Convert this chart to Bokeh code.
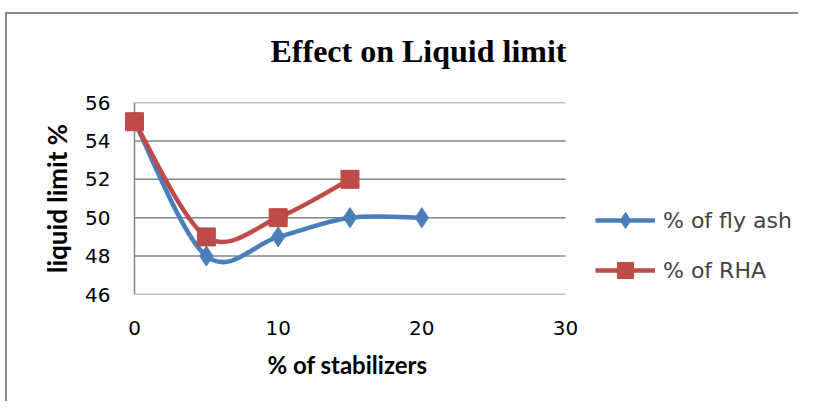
import numpy as np
from bokeh.plotting import figure
from bokeh.models import (ColumnDataSource, FixedTicker, Legend, LegendItem, Range1d, Title)
from bokeh.embed import file_html
from bokeh.resources import INLINE

# ---- data ----
stabilizer_pct = [0, 5, 10, 15, 20]
fly_ash_ll = [55, 48, 49, 50, 50]
rha_pct = [0, 5, 10, 15]
rha_ll = [55, 49, 50, 52]
x_ticks = [0, 10, 20, 30]
y_ticks = [46, 48, 50, 52, 54, 56]

title_text = "Effect on Liquid limit"
x_title = "% of stabilizers"
y_title = "liquid limit %"
series_names = ["% of fly ash", "% of RHA"]

BLUE = "#4A7EBB"
RED = "#BE4B48"
GRID = "#868686"

# ---- layout (canvas px; canvas origin at screen (7, 14)) ----
OX, OY = 7, 14
W, H = 793, 411 - OY - 8
frame_left, frame_top, frame_bottom = 120 - OX, 102 - OY, 294 - OY
x0_px, x30_px = 134 - OX, 565 - OX
px_x = (x30_px - x0_px) / 30.0
x_start = (frame_left - x0_px) / px_x
x_end = x_start + (W - frame_left) / px_x

p = figure(width=W, height=H, output_backend="svg", toolbar_location=None,
           x_range=Range1d(x_start, x_end), y_range=Range1d(46, 56),
           min_border_left=frame_left, min_border_right=0,
           min_border_top=frame_top, min_border_bottom=H - frame_bottom)
# chart-area border (left and top edges only)
p.styles = {"margin-left": "%dpx" % OX, "margin-top": "%dpx" % OY,
            "box-shadow": "-2px -2px 0px 0px #8c8c8c"}
p.outline_line_color = None
p.xgrid.visible = False
p.ygrid.visible = False
p.background_fill_color = "white"
p.border_fill_color = "white"

for ax, ticks, standoff in ((p.xaxis[0], x_ticks, 20), (p.yaxis[0], y_ticks, 4)):
    ax.ticker = FixedTicker(ticks=ticks)
    ax.axis_line_color = None
    ax.major_tick_line_color = None
    ax.minor_tick_line_color = None
    ax.major_label_standoff = standoff
    ax.major_label_text_font = "DejaVu Sans"
    ax.major_label_text_font_size = "20px"
    ax.major_label_text_color = "#000000"

# main title (outermost) with an invisible spacer between it and the frame
p.title = Title(text=title_text, align="left", offset=150, standoff=0,
                text_font="Liberation Serif", text_font_style="bold",
                text_font_size="32px", text_color="black")
p.add_layout(Title(text=" ", text_font_size="1px", standoff=31), "above")
p.add_layout(Title(text=x_title, align="left", offset=147, standoff=21,
                   text_font="Lato", text_font_style="bold",
                   text_font_size="24px", text_color="black"), "below")
p.add_layout(Title(text=y_title, align="center", standoff=19,
                   text_font="Lato", text_font_style="bold",
                   text_font_size="26px", text_color="black"), "left")

# gridlines and axis line
p.segment(x0=[x_ticks[0]] * len(y_ticks), x1=[x_ticks[-1]] * len(y_ticks),
          y0=y_ticks, y1=y_ticks, line_color=GRID, line_width=1.5)
p.segment(x0=[0], x1=[0], y0=[y_ticks[0]], y1=[y_ticks[-1]], line_color=GRID, line_width=1.5)

def smooth(xs, ys):
    xs = np.asarray(xs, float); ys = np.asarray(ys, float)
    n = len(xs)
    xp = np.concatenate([[xs[0]], xs, [xs[-1]]])
    yp = np.concatenate([[ys[0]], ys, [ys[-1]]])
    d = dict(x0=[], y0=[], x1=[], y1=[], cx0=[], cy0=[], cx1=[], cy1=[])
    for i in range(n - 1):
        a, b = i + 1, i + 2
        d["x0"].append(xp[a]); d["y0"].append(yp[a])
        d["x1"].append(xp[b]); d["y1"].append(yp[b])
        d["cx0"].append(xp[a] + (xp[b] - xp[a - 1]) / 6)
        d["cy0"].append(yp[a] + (yp[b] - yp[a - 1]) / 6)
        d["cx1"].append(xp[b] - (xp[b + 1] - xp[a]) / 6)
        d["cy1"].append(yp[b] - (yp[b + 1] - yp[a]) / 6)
    return ColumnDataSource(d)

r_fa_line = p.bezier("x0", "y0", "x1", "y1", "cx0", "cy0", "cx1", "cy1",
                     source=smooth(stabilizer_pct, fly_ash_ll), line_color=BLUE, line_width=4.5)
r_fa_pts = p.scatter(stabilizer_pct, fly_ash_ll, marker="diamond", size=20,
                     fill_color=BLUE, line_color=BLUE)
r_rha_line = p.bezier("x0", "y0", "x1", "y1", "cx0", "cy0", "cx1", "cy1",
                      source=smooth(rha_pct, rha_ll), line_color=RED, line_width=4.5)
r_rha_pts = p.scatter(rha_pct, rha_ll, marker="square", size=18,
                      fill_color=RED, line_color=RED)

legend = Legend(items=[LegendItem(label=series_names[0], renderers=[r_fa_line, r_fa_pts]),
                       LegendItem(label=series_names[1], renderers=[r_rha_line, r_rha_pts])],
                location=(475, 4), orientation="vertical",
                glyph_width=60, glyph_height=40, spacing=10, label_standoff=8,
                padding=0, margin=0, border_line_color=None, background_fill_alpha=0,
                label_text_font="DejaVu Sans", label_text_font_size="22px",
                label_height=40)
p.add_layout(legend, "center")

open("out.html", "w").write(file_html(p, INLINE))
